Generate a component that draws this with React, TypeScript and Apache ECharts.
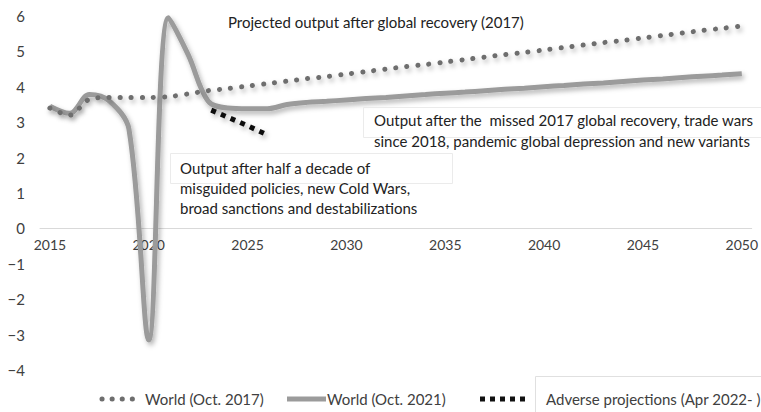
import React, { useEffect, useRef } from "react";
import * as echarts from "echarts";

const years = [
  "2015", "2016", "2017", "2018", "2019", "2020", "2021", "2022", "2023", "2024",
  "2025", "2026", "2027", "2028", "2029", "2030", "2031", "2032", "2033", "2034",
  "2035", "2036", "2037", "2038", "2039", "2040", "2041", "2042", "2043", "2044",
  "2045", "2046", "2047", "2048", "2049", "2050",
];

// World (Oct. 2017) projection
const world2017 = [
  3.4, 3.2, 3.65, 3.7, 3.7, 3.7, 3.72, 3.8, 3.89, 3.95,
  4.02, 4.09, 4.16, 4.23, 4.29, 4.36, 4.43, 4.5, 4.57, 4.63,
  4.7, 4.77, 4.84, 4.91, 4.97, 5.04, 5.11, 5.18, 5.25, 5.31,
  5.38, 5.45, 5.52, 5.59, 5.65, 5.72,
];

// World (Oct. 2021) projection
const world2021 = [
  3.45, 3.25, 3.78, 3.6, 2.8, -3.15, 5.95, 4.9, 3.6, 3.4,
  3.38, 3.38, 3.5, 3.56, 3.59, 3.63, 3.67, 3.7, 3.74, 3.78,
  3.82, 3.85, 3.89, 3.93, 3.96, 4.0, 4.04, 4.08, 4.11, 4.15,
  4.19, 4.22, 4.26, 4.3, 4.33, 4.37,
];

// Adverse projections (Apr 2022- )
const adverse: (number | null)[] = [
  null, null, null, null, null, null, null, null, 3.38, 3.14,
  2.9, 2.64, null, null, null, null, null, null, null, null,
  null, null, null, null, null, null, null, null, null, null,
  null, null, null, null, null, null,
];

const seriesNames = ["World (Oct. 2017)", "World (Oct. 2021)", "Adverse projections (Apr 2022- )"];

const annotTop = "Projected output after global recovery (2017)";
const annotMissed = [
  "Output after the  missed 2017 global recovery, trade wars",
  "since 2018, pandemic global depression and new variants",
];
const annotHalf = [
  "Output after half a decade of",
  "misguided policies, new Cold Wars,",
  "broad sanctions and destabilizations",
];

const FONT = "Lato, 'Open Sans', sans-serif";
const shadow = {
  shadowColor: "rgba(0,0,0,0.3)",
  shadowBlur: 5,
  shadowOffsetX: 2,
  shadowOffsetY: 3,
};

export default function App() {
  const ref = useRef<HTMLDivElement>(null);
  useEffect(() => {
    if (!ref.current) return;
    const chart = echarts.init(ref.current, undefined, { renderer: "svg" });
    const txt = (text: string, x: number, y: number, size = 15, fill = "#222") => ({
      type: "text",
      x,
      y,
      z: 100,
      style: { text, fill, fontSize: size, fontFamily: FONT, verticalAlign: "middle" },
    });
    const option: any = {
      animation: false,
      backgroundColor: "#ffffff",
      grid: { left: 40, right: 6, top: 16, bottom: 42, containLabel: false },
      xAxis: {
        type: "category",
        data: years,
        boundaryGap: true,
        position: "bottom",
        offset: -141.6,
        axisLine: { onZero: false, lineStyle: { color: "#d9d9d9", width: 1 } },
        axisTick: { show: false },
        splitLine: { show: false },
        axisLabel: { interval: 4, color: "#404040", fontSize: 14, fontFamily: FONT, margin: 9 },
      },
      yAxis: {
        type: "value",
        min: -4,
        max: 6,
        interval: 1,
        axisLine: { show: false },
        axisTick: { show: false },
        splitLine: { show: false },
        axisLabel: {
          color: "#404040",
          fontSize: 15,
          fontFamily: FONT,
          margin: 15,
          formatter: (v: number) => (v < 0 ? "\u2212" + Math.abs(v) : String(v)),
        },
      },
      series: [
        {
          name: seriesNames[1],
          type: "line",
          data: world2021,
          smooth: 0.35,
          symbol: "none",
          z: 2,
          lineStyle: { color: "#9b9b9b", width: 5, ...shadow },
        },
        {
          name: seriesNames[0],
          type: "line",
          data: world2017,
          smooth: 0.3,
          symbol: "none",
          z: 3,
          lineStyle: { color: "#6e6e6e", width: 5, type: [0.1, 11], cap: "round", ...shadow },
        },
        {
          name: seriesNames[2],
          type: "line",
          data: adverse,
          symbol: "none",
          connectNulls: false,
          z: 4,
          lineStyle: { color: "#111111", width: 5, type: [5, 5.5], dashOffset: 6.5, cap: "butt", ...shadow },
        },
      ],
      graphic: [
        // faint text-box borders
        { type: "rect", z: 50, shape: { x: 170.5, y: 153.5, width: 282, height: 30 }, style: { fill: "none", stroke: "#ebebeb", lineWidth: 1 } },
        { type: "rect", z: 50, shape: { x: 363.5, y: 107.5, width: 400, height: 30 }, style: { fill: "none", stroke: "#ebebeb", lineWidth: 1 } },
        txt(annotTop, 228, 22),
        txt(annotMissed[0], 374, 120),
        txt(annotMissed[1], 374, 141),
        txt(annotHalf[0], 180, 168),
        txt(annotHalf[1], 180, 188),
        txt(annotHalf[2], 180, 208),
        // legend
        { type: "line", z: 60, shape: { x1: 102, y1: 399, x2: 142, y2: 399 }, style: { stroke: "#6e6e6e", lineWidth: 5, lineDash: [0.1, 10], lineCap: "round" } },
        txt(seriesNames[0], 145, 399, 15, "#404040"),
        { type: "line", z: 60, shape: { x1: 287, y1: 399, x2: 326, y2: 399 }, style: { stroke: "#9b9b9b", lineWidth: 5 } },
        txt(seriesNames[1], 327, 399, 15, "#404040"),
        { type: "line", z: 60, shape: { x1: 480, y1: 399, x2: 529, y2: 399 }, style: { stroke: "#111111", lineWidth: 5, lineDash: [5, 5] } },
        { type: "rect", z: 55, shape: { x: 535.5, y: 376.5, width: 240, height: 50 }, style: { fill: "#ffffff", stroke: "#e0e0e0", lineWidth: 1 } },
        txt(seriesNames[2], 546, 399, 15, "#404040"),
      ],
    };
    chart.setOption(option);
    return () => chart.dispose();
  }, []);
  return (
    <div
      ref={ref}
      style={{ position: "absolute", left: 0, top: 0, width: 761, height: 412, background: "#fff" }}
    />
  );
}
